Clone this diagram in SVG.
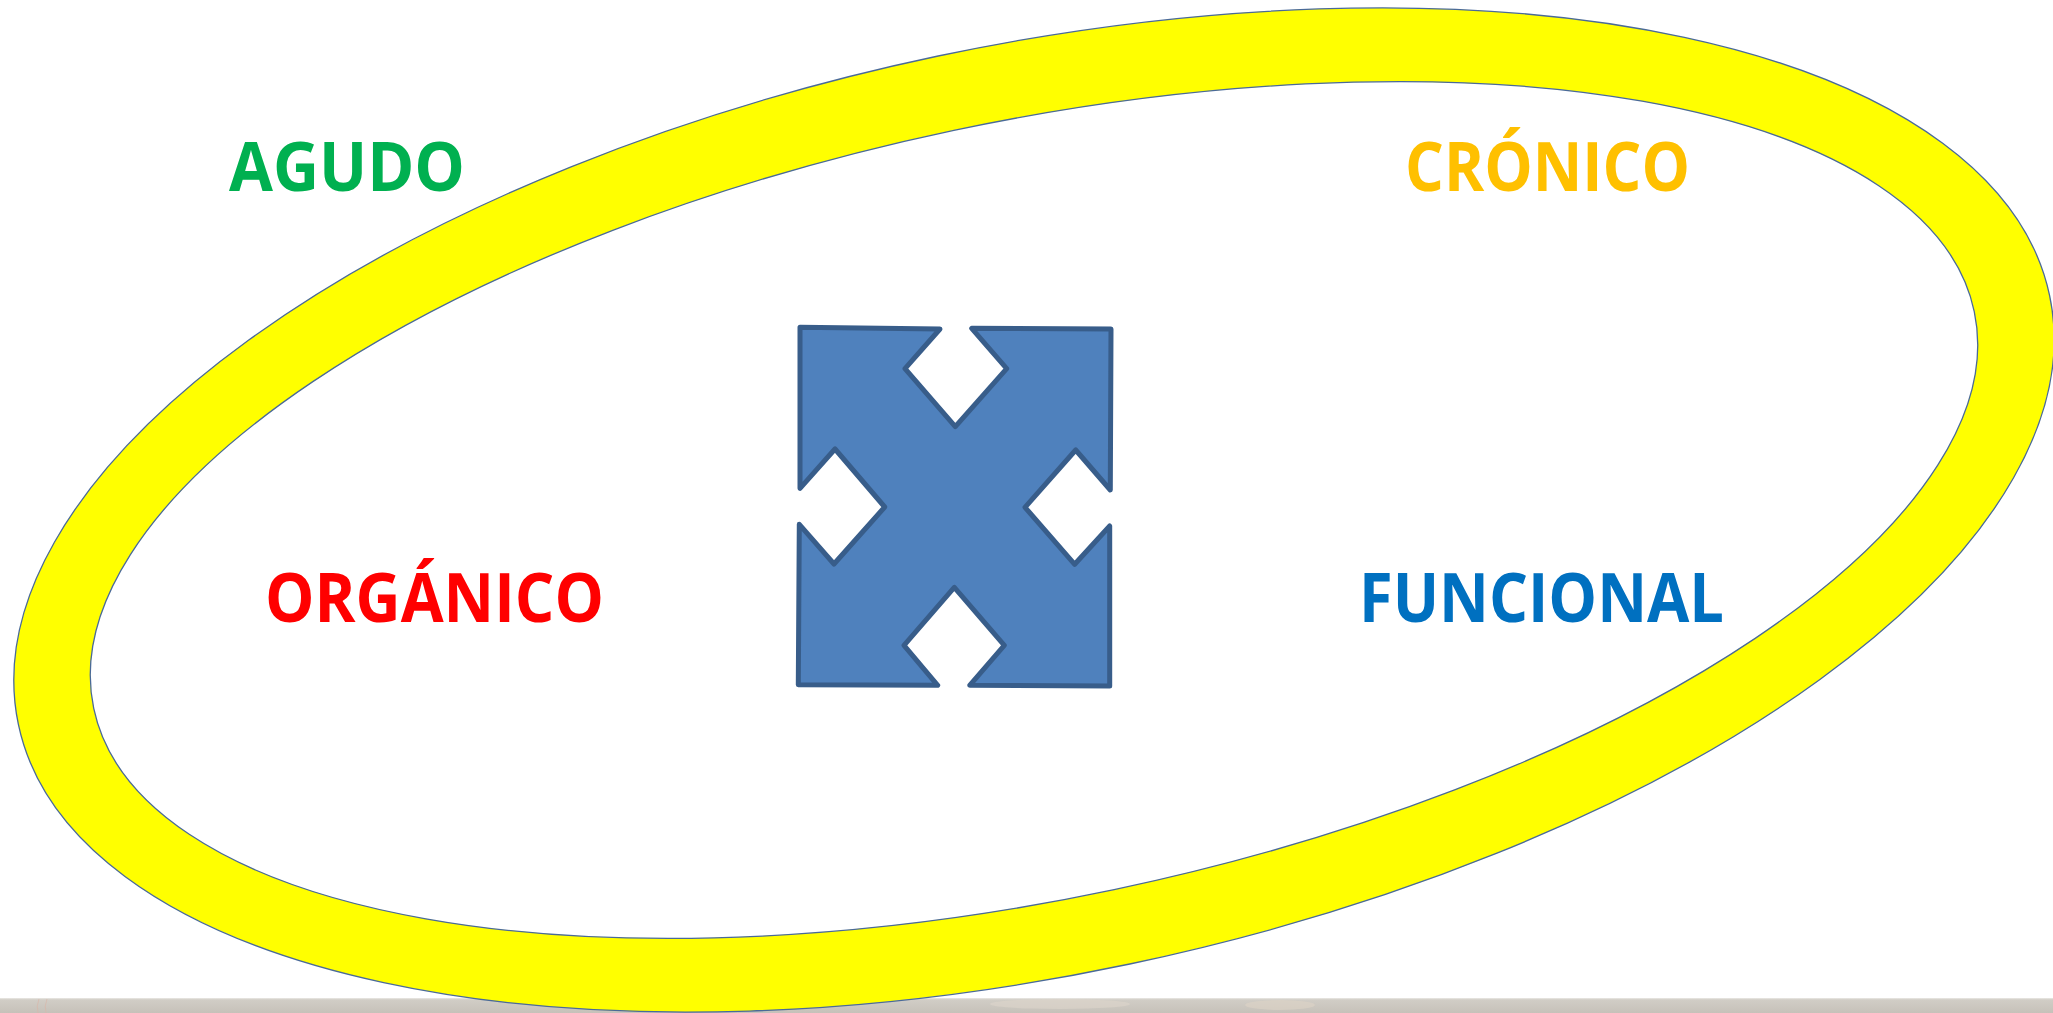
<svg xmlns="http://www.w3.org/2000/svg" width="2053" height="1013" viewBox="0 0 2053 1013">
  <defs>
    <linearGradient id="floor" x1="0" y1="0" x2="0" y2="1">
      <stop offset="0" stop-color="#ebe9e5"/>
      <stop offset="0.12" stop-color="#d1cdc6"/>
      <stop offset="1" stop-color="#c6c1b9"/>
    </linearGradient>
    <style>
      .label { font-family: "Open Sans", "Noto Sans", "Liberation Sans", sans-serif; font-weight: 700; font-size: 68px; }
      .ring { fill: #ffff00; stroke: #4a6a98; stroke-width: 1.3; fill-rule: evenodd; }
      .quad { fill: #4f81bd; stroke: #385d8a; stroke-width: 5; stroke-linejoin: round; }
    </style>
  </defs>

  <!-- page background -->
  <rect x="0" y="0" width="2053" height="1013" fill="#ffffff"/>

  <!-- bottom backdrop strip -->
  <g id="backdrop">
    <rect x="0" y="998" width="2053" height="15" fill="url(#floor)"/>
    <path d="M39 999 Q36 1006 38 1013" fill="none" stroke="#d9b8aa" stroke-width="1" opacity="0.7"/>
    <path d="M47 999 Q44 1006 46 1013" fill="none" stroke="#d9b8aa" stroke-width="1" opacity="0.7"/>
    <ellipse cx="1060" cy="1004" rx="70" ry="5" fill="#ddd6cc" opacity="0.6"/>
    <ellipse cx="1280" cy="1005" rx="35" ry="5" fill="#ddd3c6" opacity="0.6"/>
  </g>

  <!-- tilted yellow ring -->
  <g id="ring" transform="rotate(-11.92 1034 510)">
    <path class="ring" d="M-4 510 A1038 464 0 1 0 2072 510 A1038 464 0 1 0 -4 510 Z M73 510 A961 388 0 1 0 1995 510 A961 388 0 1 0 73 510 Z"/>
  </g>

  <!-- four-way arrow -->
  <g id="quad-arrow">
    <path class="quad" d="M800 327.3 L940 329 L905 368.7 L955.3 426.7 L1006.7 368.7 L971.7 328.3 L1111 329 L1110.3 490 L1075.7 450 L1025 507.3 L1074.7 564.3 L1109.7 526 L1109.7 686 L969.7 685.3 L1004.3 645.3 L954.3 587.3 L904 645.3 L937.7 685.3 L798.3 684.7 L799.3 524.3 L834 564 L884.7 507 L835 449 L800 488.3 Z"/>
  </g>

  <!-- labels -->
  <g id="agudo">
    <text class="label" x="229" y="191" fill="#00b050" textLength="236" lengthAdjust="spacingAndGlyphs">AGUDO</text>
  </g>
  <g id="cronico">
    <text class="label" x="1405" y="191" fill="#ffc000" textLength="285" lengthAdjust="spacingAndGlyphs">CRÓNICO</text>
  </g>
  <g id="organico">
    <text class="label" x="265" y="622" fill="#ff0000" textLength="339" lengthAdjust="spacingAndGlyphs">ORGÁNICO</text>
  </g>
  <g id="funcional">
    <text class="label" x="1359" y="622" fill="#0070c0" textLength="365" lengthAdjust="spacingAndGlyphs">FUNCIONAL</text>
  </g>
</svg>
